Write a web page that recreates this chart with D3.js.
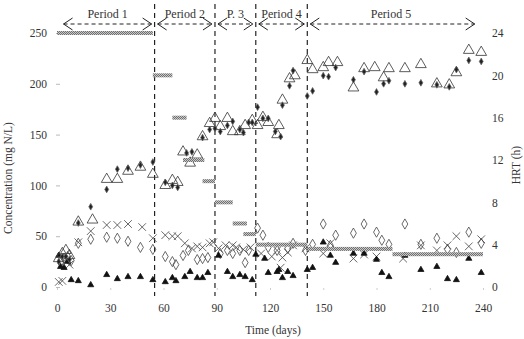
<!DOCTYPE html>
<html>
<head>
<meta charset="utf-8">
<script src="https://cdn.jsdelivr.net/npm/d3@7"></script>
<style>
  body { margin: 0; background: #fff; }
  text { font-family: "Liberation Serif", "Times New Roman", serif; fill: #333; }
</style>
</head>
<body>
<script>
// x ticks / axis values
const dayTicks = [0, 30, 60, 90, 120, 150, 180, 210, 240]
const concTicks = [0, 50, 100, 150, 200, 250]
const hrtTicks = [0, 4, 8, 12, 16, 20, 24]

// period boundaries (days) and labels
const periodEdges = [2, 55, 89, 112, 141, 237]
const periodNames = ["Period 1", "Period 2", "P. 3", "Period 4", "Period 5"]

// HRT steps
const hrtStart = [0, 54, 65, 71, 82, 89, 99, 105, 112, 141, 189]
const hrtEnd = [54, 65, 73, 83, 89, 99, 107, 112, 141, 189, 240]
const hrtValue = [24, 20, 16, 12, 10, 8, 6, 5, 4, 3.6, 3.1]

// concentration series, [day, mg N/L]
const openTri = [[1,28],[3,33],[5,36],[7,31],[12,64],[20,66],[28,106],[34,106],[40,114],[47,118],[54,111],
  [61,100],[65,105],[68,103],[71,133],[75,122],[79,130],[82,148],[86,161],[89,166],[92,158],
  [96,166],[99,153],[103,153],[106,159],[110,164],[113,159],[116,167],[119,162],[124,150],[125,159],
  [127,184],[131,205],[134,208],[141,223],[144,214],[150,216],[153,221],[158,221],
  [167,196],[173,215],[179,216],[184,206],[187,215],[196,215],[205,219],[214,200],[221,199],[225,211],[232,233],[239,231]]
const filledDiamond = [[1,25],[3,30],[5,30],[7,27],[12,63],[19,79],[28,96],[34,116],[40,117],[47,120],[54,123],
  [61,103],[65,100],[68,98],[73,132],[76,133],[82,147],[86,155],[89,156],[92,153],
  [96,159],[99,163],[103,155],[105,152],[108,162],[110,162],[113,177],[116,166],[119,166],[123,153],[126,148],
  [127,179],[131,198],[133,213],[141,188],[144,193],[150,208],[153,207],[157,216],
  [167,204],[173,212],[180,192],[184,200],[187,203],[196,200],[205,201],[214,199],[221,197],[225,214],[232,223],[239,222]]
const cross = [[1,5],[3,6],[5,25],[7,22],[12,44],[19,55],[28,61],[34,61],[40,62],[48,59],[54,48],
  [61,51],[65,50],[68,50],[72,43],[76,38],[79,40],[82,39],[86,43],[88,44],[91,38],[95,41],[99,41],[101,39],[105,37],[109,39],
  [115,33],[121,30],[124,36],[126,19],[127,29],[130,34],[133,41],[140,38],[150,33],[154,43],
  [167,28],[173,32],[180,30],[195,28],[205,41],[214,36],[220,41],[225,50],[232,40],[239,47]]
const openDiamond = [[2,24],[4,28],[6,30],[8,26],[12,43],[19,47],[28,49],[34,48],[40,45],[47,39],[54,37],
  [61,30],[65,25],[67,22],[71,31],[74,36],[79,27],[82,28],[85,29],[92,33],[96,36],[99,33],[103,36],[106,24],[108,36],
  [113,58],[116,51],[119,39],[124,36],[130,38],[133,43],[140,36],[144,42],[150,62],[154,41],[157,51],
  [167,53],[173,62],[180,54],[183,46],[187,42],[196,62],[205,42],[214,48],[220,37],[225,34],[232,54],[239,43]]
const filledTri = [[1,31],[2,20],[4,19],[6,25],[8,7],[12,6],[19,2],[28,12],[34,8],[40,10],[47,10],[54,7],
  [61,5],[65,9],[67,6],[72,10],[75,15],[79,9],[82,9],[85,14],[91,31],[96,15],[99,10],[103,12],[106,10],[110,7],
  [112,32],[117,28],[119,14],[124,15],[125,17],[127,9],[130,15],[133,11],[141,17],[144,19],[150,44],[154,31],[157,24],
  [167,33],[173,33],[180,27],[183,14],[187,10],[196,31],[205,17],[214,20],[220,8],[225,7],[232,28],[239,14]]

const width = 524
const height = 339

const x = d3.scaleLinear([0, 240], [57, 483])
const yL = d3.scaleLinear([0, 250], [287, 33])
const yR = d3.scaleLinear([0, 24], [287, 33])

const svg = d3.select("body").append("svg")
  .attr("width", width)
  .attr("height", height)

// checkered gray fill for HRT bars
const pat = svg.append("defs").append("pattern")
  .attr("id", "chk")
  .attr("width", 2).attr("height", 2)
  .attr("patternUnits", "userSpaceOnUse")
pat.append("rect").attr("width", 2).attr("height", 2).attr("fill", "#c8c8c8")
pat.append("rect").attr("width", 1).attr("height", 1).attr("fill", "#707070")
pat.append("rect").attr("x", 1).attr("y", 1).attr("width", 1).attr("height", 1).attr("fill", "#707070")

function styleTicks(g) {
  g.select(".domain").remove()
  g.attr("font-family", null).attr("font-size", null)
  g.selectAll("text").attr("font-size", 11.5)
}

// left axis
svg.append("g")
  .attr("transform", "translate(60,0)")
  .call(d3.axisLeft(yL).tickValues(concTicks).tickSize(4).tickPadding(9))
  .call(styleTicks)
  .selectAll("line").attr("stroke", "#bbb")

// right axis
svg.append("g")
  .attr("transform", "translate(483,0)")
  .call(d3.axisRight(yR).tickValues(hrtTicks).tickSize(0).tickPadding(9))
  .call(styleTicks)

// bottom axis
svg.append("g")
  .attr("transform", "translate(0,288)")
  .call(d3.axisBottom(x).tickValues(dayTicks).tickSize(2).tickPadding(14))
  .call(styleTicks)
  .selectAll("line").attr("stroke", "#ccc")

// axis titles
svg.append("text")
  .attr("transform", "translate(12,178) rotate(-90)")
  .attr("text-anchor", "middle")
  .attr("font-size", 11.5)
  .text("Concentration (mg N/L)")

svg.append("text")
  .attr("transform", "translate(520,165) rotate(-90)")
  .attr("text-anchor", "middle")
  .attr("font-size", 11.5)
  .text("HRT (h)")

svg.append("text")
  .attr("x", 273).attr("y", 334)
  .attr("text-anchor", "middle")
  .attr("font-size", 11.5)
  .text("Time (days)")

// period dividers
svg.append("g")
  .selectAll("line")
  .data(periodEdges.slice(1, -1))
  .join("line")
  .attr("x1", d => x(d)).attr("x2", d => x(d))
  .attr("y1", 4).attr("y2", 296)
  .attr("stroke", "#111")
  .attr("stroke-width", 1.1)
  .attr("stroke-dasharray", "5,4")

// period arrows + labels
const periods = periodNames.map((name, i) => ({ name, a: periodEdges[i], b: periodEdges[i + 1] }))
const pg = svg.append("g").selectAll("g").data(periods).join("g")

pg.append("line")
  .attr("x1", d => x(d.a) + 3).attr("x2", d => x(d.b) - 3)
  .attr("y1", 24).attr("y2", 24)
  .attr("stroke", "#222")
  .attr("stroke-dasharray", "4,3")

pg.append("path")
  .attr("fill", "none")
  .attr("stroke", "#222")
  .attr("d", d => {
    const l = x(d.a) + 3, r = x(d.b) - 3
    return `M${l + 9},18 L${l},24 L${l + 9},30 M${r - 9},18 L${r},24 L${r - 9},30`
  })

pg.append("text")
  .attr("x", d => d.name === "Period 5" ? 391 : (x(d.a) + x(d.b)) / 2)
  .attr("y", 18)
  .attr("text-anchor", "middle")
  .attr("font-size", 12)
  .text(d => d.name)

// markers
function drawSeries(data, type, size, fill, stroke) {
  svg.append("g")
    .selectAll("path")
    .data(data)
    .join("path")
    .attr("transform", d => `translate(${x(d[0])},${yL(d[1])})`)
    .attr("d", d3.symbol(type, size))
    .attr("fill", fill)
    .attr("stroke", stroke)
    .attr("stroke-width", 0.8)
}

drawSeries(openDiamond, d3.symbolDiamond, 30, "none", "#444")
drawSeries(cross, d3.symbolX, 40, "none", "#444")
drawSeries(filledTri, d3.symbolTriangle, 16, "#111", "#111")
drawSeries(openTri, d3.symbolTriangle, 50, "none", "#333")
drawSeries(filledDiamond, d3.symbolDiamond, 13, "#222", "#666")

// HRT bars
svg.append("g")
  .selectAll("rect")
  .data(hrtValue.map((v, i) => ({ s: hrtStart[i], e: hrtEnd[i], v })))
  .join("rect")
  .attr("x", d => x(d.s))
  .attr("width", d => x(d.e) - x(d.s))
  .attr("y", d => yR(d.v) - 2)
  .attr("height", 4)
  .attr("fill", "url(#chk)")
</script>
</body>
</html>
